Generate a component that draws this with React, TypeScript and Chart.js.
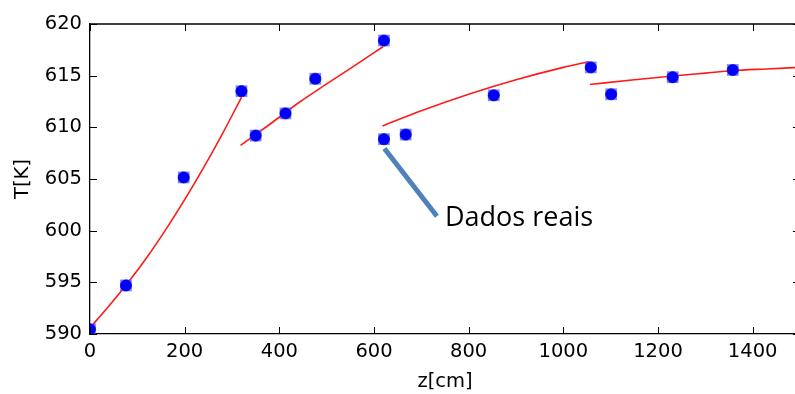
import React, { useEffect, useRef } from "react";
import { Chart, registerables } from "chart.js";

Chart.register(...registerables);

// Measured temperatures along the reactor length
const measuredZ = [0, 76, 198, 320, 350, 413, 476, 621, 621, 667, 853, 1058, 1101, 1231, 1358];
const measuredT = [590.45, 594.7, 605.15, 613.5, 609.2, 611.35, 614.7, 618.4, 608.85, 609.3, 613.1, 615.8, 613.2, 614.85, 615.55];

// Model curves, one per bed section
const fit1Z = [0, 40, 80, 120, 160, 200, 240, 280, 320];
const fit1T = [590.6, 592.7, 594.95, 597.4, 600.1, 603.0, 606.1, 609.4, 612.9];
const fit2Z = [318, 380, 443, 500, 560, 619];
const fit2T = [608.25, 610.3, 612.45, 614.2, 616.0, 617.8];
const fit3Z = [618, 700, 800, 900, 1000, 1054];
const fit3T = [610.13, 611.6, 613.2, 614.6, 615.8, 616.35];
const fit4Z = [1056, 1150, 1231, 1300, 1357, 1430, 1500];
const fit4T = [614.15, 614.6, 614.97, 615.25, 615.48, 615.65, 615.8];

// Axis settings
const xMin = 0;
const xMax = 1500;
const xStep = 200;
const yMin = 590;
const yMax = 620;
const yStep = 5;
const xTitle = "z[cm]";
const yTitle = "T[K]";

// Callout pointing at the measured data
const calloutText = "Dados reais";
const calloutFrom = { z: 622, t: 607.95 };
const calloutTo = { z: 733, t: 601.4 };
const calloutLabel = { z: 750, t: 600.45 };

const pairs = (zs: number[], ts: number[]) => zs.map((z, i) => ({ x: z, y: ts[i] }));

const tickFont = { family: "'DejaVu Sans'", size: 19.5, lineHeight: 1 };

const frameAndTicks = {
  id: "frameAndTicks",
  afterDatasetsDraw(chart: any) {
    const { ctx, chartArea: a, scales } = chart;
    const xs = scales.x;
    const ys = scales.y;
    ctx.save();
    ctx.strokeStyle = "#000";
    ctx.lineWidth = 1.3;
    ctx.beginPath();
    ctx.moveTo(a.left, a.top);
    ctx.lineTo(a.right, a.top);
    ctx.lineTo(a.right, a.bottom);
    ctx.stroke();
    ctx.lineWidth = 1;
    const len = 7;
    ctx.beginPath();
    for (const t of xs.ticks) {
      const px = Math.round(xs.getPixelForValue(t.value)) + 0.5;
      ctx.moveTo(px, a.bottom);
      ctx.lineTo(px, a.bottom - len);
      ctx.moveTo(px, a.top);
      ctx.lineTo(px, a.top + len);
    }
    for (const t of ys.ticks) {
      const py = Math.round(ys.getPixelForValue(t.value)) + 0.5;
      ctx.moveTo(a.left, py);
      ctx.lineTo(a.left + len, py);
      ctx.moveTo(a.right, py);
      ctx.lineTo(a.right - len, py);
    }
    ctx.stroke();
    ctx.restore();
  },
  afterDraw(chart: any) {
    const { ctx, scales } = chart;
    const xs = scales.x;
    const ys = scales.y;
    ctx.save();
    ctx.strokeStyle = "#4f81bd";
    ctx.lineWidth = 5;
    ctx.lineCap = "butt";
    ctx.beginPath();
    ctx.moveTo(xs.getPixelForValue(calloutFrom.z), ys.getPixelForValue(calloutFrom.t));
    ctx.lineTo(xs.getPixelForValue(calloutTo.z), ys.getPixelForValue(calloutTo.t));
    ctx.stroke();
    ctx.fillStyle = "#000";
    ctx.font = "27px 'Open Sans'";
    ctx.textAlign = "left";
    ctx.textBaseline = "alphabetic";
    ctx.fillText(calloutText, xs.getPixelForValue(calloutLabel.z), ys.getPixelForValue(calloutLabel.t));
    ctx.restore();
  },
};

export default function App() {
  const ref = useRef<HTMLCanvasElement | null>(null);

  useEffect(() => {
    document.body.style.margin = "0";
    const canvas = ref.current;
    if (!canvas) return;
    const fitLine = (zs: number[], ts: number[]) => ({
      type: "line" as const,
      data: pairs(zs, ts),
      showLine: true,
      borderColor: "#ff1a1a",
      borderWidth: 1.6,
      pointRadius: 0,
      cubicInterpolationMode: "monotone" as const,
      fill: false,
      order: 2,
      clip: 0,
    });
    const chart = new Chart(canvas, {
      type: "scatter",
      data: {
        datasets: [
          {
            data: pairs(measuredZ, measuredT),
            pointStyle: "circle",
            pointRadius: 5.6,
            backgroundColor: "#0000ff",
            borderColor: "#0000b0",
            borderWidth: 0.6,
            order: 0,
            clip: 0,
          },
          {
            data: pairs(measuredZ, measuredT),
            pointStyle: "rect",
            pointRadius: 8.3,
            backgroundColor: "rgba(90,90,255,0.75)",
            borderWidth: 0,
            order: 1,
            clip: 0,
          },
          fitLine(fit1Z, fit1T),
          fitLine(fit2Z, fit2T),
          fitLine(fit3Z, fit3T),
          fitLine(fit4Z, fit4T),
        ] as any,
      },
      options: {
        responsive: false,
        animation: false,
        devicePixelRatio: 1,
        layout: { padding: { top: 24, right: 20, left: 0, bottom: 0 } },
        plugins: { legend: { display: false }, tooltip: { enabled: false } },
        scales: {
          x: {
            type: "linear",
            min: xMin,
            max: xMax,
            ticks: {
              stepSize: xStep,
              includeBounds: false,
              autoSkip: false,
              font: tickFont,
              color: "#000",
              padding: 8,
              maxRotation: 0,
              callback: (v: any) => String(v),
            },
            grid: { display: false, drawTicks: false },
            border: { color: "#000", width: 1.3 },
            title: { display: true, text: xTitle, font: tickFont, color: "#000", padding: { top: 0, bottom: 2 } },
            afterFit: (s: any) => { s.height = 60; },
          },
          y: {
            type: "linear",
            min: yMin,
            max: yMax,
            ticks: { stepSize: yStep, font: tickFont, color: "#000", padding: 8, callback: (v: any) => String(v) },
            grid: { display: false, drawTicks: false },
            border: { color: "#000", width: 1.3 },
            title: { display: true, text: yTitle, font: tickFont, color: "#000", padding: { top: 13, bottom: 0 } },
            afterFit: (s: any) => { s.width = 90; },
          },
        },
      },
      plugins: [frameAndTicks],
    });
    return () => chart.destroy();
  }, []);

  return (
    <div style={{ position: "fixed", left: 0, top: 0, width: 795, height: 394, overflow: "hidden", background: "#fff" }}>
      <canvas ref={ref} width={820} height={394} style={{ width: 820, height: 394, display: "block" }} />
    </div>
  );
}
